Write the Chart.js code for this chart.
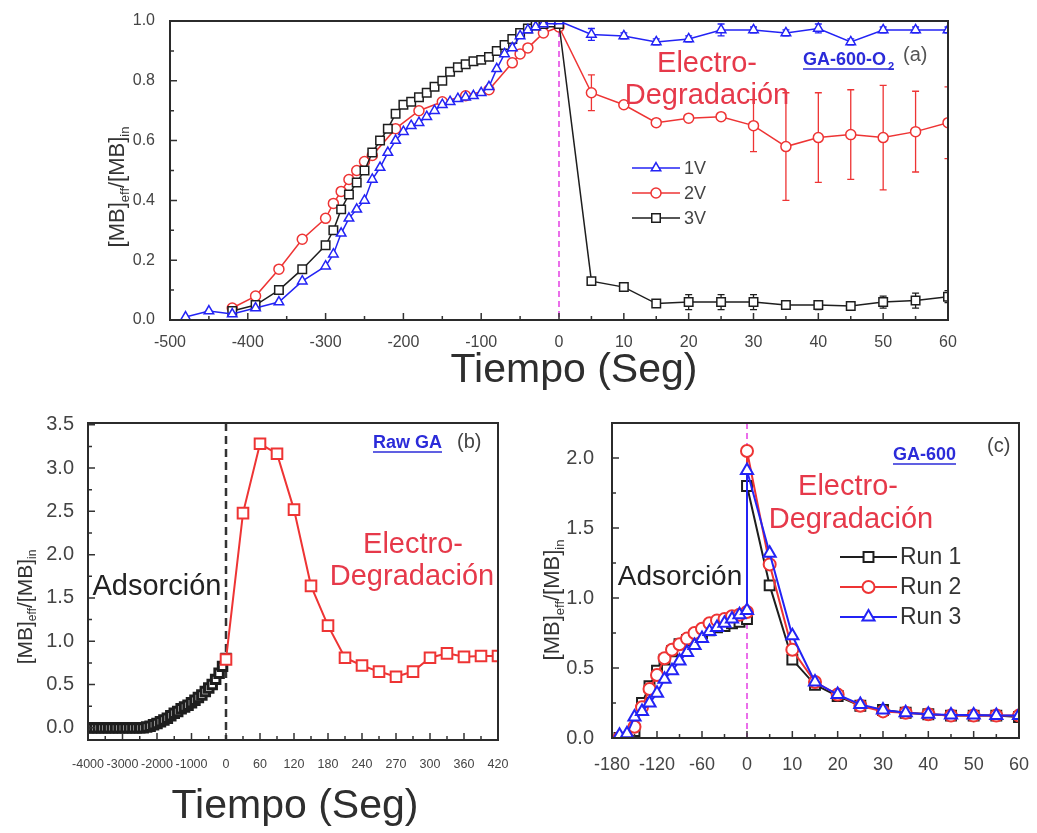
<!DOCTYPE html>
<html><head><meta charset="utf-8">
<script src="https://cdn.jsdelivr.net/npm/chart.js@4.4.1/dist/chart.umd.min.js"></script>
<style>
html,body{margin:0;padding:0;background:#fff;}
#wrap{position:relative;width:1037px;height:833px;overflow:hidden;background:#fff;}
canvas{position:absolute;}
</style></head><body>
<div id="wrap">
<canvas id="ca" width="1037" height="400" style="left:0;top:0"></canvas>
<canvas id="cb" width="520" height="433" style="left:0;top:400px"></canvas>
<canvas id="cc" width="517" height="433" style="left:520px;top:400px"></canvas>
</div>
<script>
// ================= DATA =================
// Panel (a) GA-600-O2
const A_X_TICKS = [-500,-400,-300,-200,-100,0,10,20,30,40,50,60];
const A_Y_TICKS = [0,0.2,0.4,0.6,0.8,1.0];
const A_1V_X = [-480,-450,-420,-390,-360,-330,-300,-290,-280,-270,-260,-250,-240,-230,-220,-210,-200,-190,-180,-170,-160,-150,-140,-130,-120,-110,-100,-90,-80,-70,-60,-50,-40,-30,-20,-10,0,5,10,15,20,25,30,35,40,45,50,55,60];
const A_1V_Y = [0.01,0.03,0.02,0.04,0.06,0.13,0.18,0.22,0.29,0.34,0.37,0.40,0.47,0.51,0.56,0.60,0.63,0.65,0.66,0.68,0.70,0.72,0.73,0.74,0.745,0.75,0.76,0.78,0.84,0.89,0.91,0.95,0.97,0.98,0.99,1.0,1.0,0.955,0.95,0.93,0.94,0.97,0.97,0.96,0.975,0.93,0.97,0.97,0.97];
const A_1V_ERR = [0,0,0,0,0,0,0,0,0,0,0,0,0,0,0,0,0,0,0,0,0,0,0,0,0,0,0,0,0,0,0,0,0,0,0,0,0,0.02,0.01,0.01,0.01,0.02,0.01,0.01,0.015,0.01,0.01,0.01,0.01];
const A_2V_X = [-420,-390,-360,-330,-300,-290,-280,-270,-260,-250,-240,-210,-180,-150,-120,-90,-60,-50,-40,-20,0,5,10,15,20,25,30,35,40,45,50,55,60];
const A_2V_Y = [0.04,0.08,0.17,0.27,0.34,0.39,0.43,0.47,0.50,0.53,0.55,0.64,0.70,0.73,0.75,0.77,0.86,0.89,0.91,0.96,0.98,0.76,0.72,0.66,0.675,0.68,0.65,0.58,0.61,0.62,0.61,0.63,0.66];
const A_2V_ERR = [0,0,0,0,0,0,0,0,0,0,0,0,0,0,0,0,0,0,0,0,0,0.06,0.01,0.01,0.01,0.01,0.087,0.18,0.15,0.15,0.175,0.135,0.12];
const A_3V_X = [-420,-390,-360,-330,-300,-290,-280,-270,-260,-250,-240,-230,-220,-210,-200,-190,-180,-170,-160,-150,-140,-130,-120,-110,-100,-90,-80,-70,-60,-50,-40,-30,-20,-10,0,5,10,15,20,25,30,35,40,45,50,55,60];
const A_3V_Y = [0.03,0.05,0.10,0.17,0.25,0.30,0.37,0.42,0.46,0.50,0.56,0.60,0.64,0.69,0.72,0.73,0.745,0.76,0.78,0.80,0.83,0.845,0.855,0.865,0.87,0.88,0.90,0.92,0.94,0.96,0.975,0.985,0.99,0.995,0.99,0.13,0.11,0.055,0.06,0.06,0.06,0.05,0.05,0.047,0.06,0.065,0.078];
const A_3V_ERR = [0,0,0,0,0,0,0,0,0,0,0,0,0,0,0,0,0,0,0,0,0,0,0,0,0,0,0,0,0,0,0,0,0,0,0,0.01,0.01,0.01,0.025,0.025,0.025,0.01,0.015,0.01,0.02,0.025,0.02];

// Panel (b) Raw GA
const B_X_TICKS = [-4000,-3000,-2000,-1000,0,60,120,180,240,300,360,420,480];
const B_X_LABELS = ["-4000","-3000","-2000","-1000","0","60","120","180","240","270","300","360","420"];
const B_Y_TICKS = [0,0.5,1.0,1.5,2.0,2.5,3.0,3.5];
const B_ADS_X = [-4000,-3900,-3800,-3700,-3600,-3500,-3400,-3300,-3200,-3100,-3000,-2900,-2800,-2700,-2600,-2500,-2400,-2300,-2200,-2100,-2000,-1900,-1800,-1700,-1600,-1500,-1400,-1300,-1200,-1100,-1000,-900,-800,-700,-600,-500,-400,-300,-200,-100,0];
const B_ADS_Y = [0,0,0,0,0,0,0,0,0,0,0,0,0,0,0,0,0,0.01,0.02,0.035,0.05,0.07,0.09,0.11,0.14,0.17,0.19,0.22,0.24,0.26,0.29,0.32,0.35,0.38,0.42,0.46,0.50,0.56,0.63,0.71,0.80];
const B_ELE_X = [0,30,60,90,120,150,180,210,240,270,300,330,360,390,420,450,480];
const B_ELE_Y = [0.79,2.48,3.28,3.165,2.52,1.64,1.18,0.81,0.72,0.65,0.59,0.65,0.81,0.86,0.82,0.83,0.83];

// Panel (c) GA-600
const C_X_TICKS = [-180,-120,-60,0,10,20,30,40,50,60];
const C_Y_TICKS = [0,0.5,1.0,1.5,2.0];
const C_X = [-170,-160,-150,-140,-130,-120,-110,-100,-90,-80,-70,-60,-50,-40,-30,-20,-10,0,0,5,10,15,20,25,30,35,40,45,50,55,60];
const C_RUN1 = [0.0,0.0,0.05,0.25,0.37,0.48,0.56,0.62,0.67,0.70,0.73,0.75,0.77,0.79,0.80,0.82,0.83,0.85,1.80,1.09,0.56,0.38,0.30,0.23,0.20,0.18,0.17,0.16,0.16,0.16,0.15];
const C_RUN2 = [0.0,0.0,0.08,0.22,0.35,0.45,0.57,0.63,0.67,0.71,0.75,0.78,0.82,0.84,0.85,0.87,0.88,0.90,2.05,1.24,0.63,0.40,0.31,0.23,0.19,0.18,0.17,0.16,0.16,0.16,0.16];
const C_RUN3 = [0.02,0.03,0.15,0.19,0.25,0.32,0.42,0.48,0.55,0.61,0.66,0.71,0.76,0.79,0.82,0.85,0.88,0.91,1.91,1.32,0.73,0.40,0.31,0.24,0.20,0.18,0.17,0.165,0.165,0.16,0.16];

// ================= HELPERS =================
const FONT = '"Liberation Sans", Arial, Helvetica, sans-serif';
const BLUE = '#2323f5', RED = '#ee3434', BLK = '#1e1e1e', TXTRED = '#e6394a', PINK = '#e54be5';

// piecewise-linear x scale (broken time axis)
const PIECE = {
  ca: {breaks: [-500, 0, 60], fracs: [0, 0.5, 1]},
  cb: {breaks: [-4000, 0, 480], fracs: [0, 138/410, 1]},
  cc: {breaks: [-180, 0, 60], fracs: [0, 136/410, 1]}
};
class PiecewiseScale extends Chart.LinearScale {
  _pw(){ return PIECE[this.chart.canvas.id]; }
  getPixelForValue(v){
    if (v === null || v === undefined) return NaN;
    const {breaks:b, fracs:f} = this._pw();
    let i = 0;
    while (i < b.length - 2 && v > b[i+1]) i++;
    const d = f[i] + (v - b[i]) / (b[i+1] - b[i]) * (f[i+1] - f[i]);
    return this.getPixelForDecimal(d);
  }
  getValueForPixel(p){
    const {breaks:b, fracs:f} = this._pw();
    const d = this.getDecimalForPixel(p);
    let i = 0;
    while (i < f.length - 2 && d > f[i+1]) i++;
    return b[i] + (d - f[i]) / (f[i+1] - f[i]) * (b[i+1] - b[i]);
  }
}
PiecewiseScale.id = 'piecewise';
PiecewiseScale.defaults = Chart.LinearScale.defaults;
Chart.register(PiecewiseScale);

function pts(X, Y){ return X.map((x,i)=>({x:x, y:Y[i]})); }

function drawPt(ctx, style, x, y, r, color, bw){
  ctx.save();
  ctx.fillStyle = '#fff'; ctx.strokeStyle = color; ctx.lineWidth = bw;
  Chart.helpers.drawPoint(ctx, {pointStyle: style, radius: r, borderWidth: bw, rotation: 0}, x, y);
  ctx.restore();
}

function txt(ctx, s, x, y, font, color, align){
  ctx.save(); ctx.font = font; ctx.fillStyle = color; ctx.textAlign = align || 'center'; ctx.textBaseline = 'alphabetic';
  ctx.fillText(s, x, y); ctx.restore();
}

function yLabel(ctx, cx, cy, size, sub, color){
  const parts = [['[MB]',0],['eff',1],['/[MB]',0],['in',1]];
  ctx.save();
  ctx.translate(cx, cy); ctx.rotate(-Math.PI/2);
  ctx.fillStyle = color; ctx.textBaseline = 'alphabetic'; ctx.textAlign = 'left';
  let total = 0;
  parts.forEach(p=>{ ctx.font = (p[1] ? sub : size) + 'px ' + FONT; total += ctx.measureText(p[0]).width; });
  let x = -total/2; const base = size*0.36;
  parts.forEach(p=>{
    ctx.font = (p[1] ? sub : size) + 'px ' + FONT;
    ctx.fillText(p[0], x, base + (p[1] ? size*0.22 : 0));
    x += ctx.measureText(p[0]).width;
  });
  ctx.restore();
}

function decor(cfg){
  return {
    id: 'decor',
    beforeDatasetsDraw(chart){
      const ctx = chart.ctx, a = chart.chartArea, xs = chart.scales.x, ys = chart.scales.y;
      ctx.save();
      ctx.beginPath(); ctx.rect(a.left, a.top, a.right-a.left, a.bottom-a.top); ctx.clip();
      // dashed vertical line at t = 0
      const vx = xs.getPixelForValue(0);
      ctx.strokeStyle = cfg.vline.color; ctx.lineWidth = cfg.vline.width; ctx.setLineDash(cfg.vline.dash);
      ctx.beginPath(); ctx.moveTo(vx, a.top); ctx.lineTo(vx, a.bottom); ctx.stroke();
      ctx.setLineDash([]);
      // error bars
      chart.data.datasets.forEach((ds, di)=>{
        if (!ds.errors) return;
        const meta = chart.getDatasetMeta(di);
        ctx.strokeStyle = ds.borderColor; ctx.lineWidth = 1.3;
        ds.data.forEach((p, j)=>{
          const e = ds.errors[j]; if (!e) return;
          const px = meta.data[j].x;
          const y1 = ys.getPixelForValue(p.y + e), y2 = ys.getPixelForValue(p.y - e);
          ctx.beginPath();
          ctx.moveTo(px, y1); ctx.lineTo(px, y2);
          ctx.moveTo(px-3.5, y1); ctx.lineTo(px+3.5, y1);
          ctx.moveTo(px-3.5, y2); ctx.lineTo(px+3.5, y2);
          ctx.stroke();
        });
      });
      ctx.restore();
    },
    afterDraw(chart){
      const ctx = chart.ctx, a = chart.chartArea, xs = chart.scales.x, ys = chart.scales.y;
      ctx.save();
      // inward ticks
      ctx.strokeStyle = '#333'; ctx.lineWidth = 1.5;
      ctx.beginPath();
      xs.ticks.forEach(t=>{ const p = xs.getPixelForValue(t.value); ctx.moveTo(p, a.bottom); ctx.lineTo(p, a.bottom-7); });
      cfg.xMinor.forEach(v=>{ const p = xs.getPixelForValue(v); ctx.moveTo(p, a.bottom); ctx.lineTo(p, a.bottom-4); });
      ys.ticks.forEach(t=>{ const p = ys.getPixelForValue(t.value); ctx.moveTo(a.left, p); ctx.lineTo(a.left+7, p); });
      cfg.yMinor.forEach(v=>{ const p = ys.getPixelForValue(v); ctx.moveTo(a.left, p); ctx.lineTo(a.left+4, p); });
      ctx.stroke();
      // frame
      ctx.strokeStyle = '#2b2b2b'; ctx.lineWidth = 2;
      ctx.strokeRect(a.left, a.top, a.right-a.left, a.bottom-a.top);
      ctx.restore();
      // y label & x title
      yLabel(ctx, cfg.ylabel.x, cfg.ylabel.y, cfg.ylabel.size, cfg.ylabel.sub, '#333');
      txt(ctx, 'Tiempo (Seg)', cfg.title.x, cfg.title.y, cfg.title.size + 'px ' + FONT, '#2e2e2e', 'center');
      // annotations
      cfg.texts.forEach(t=>{
        txt(ctx, t.t, t.x, t.y, t.font, t.color, t.align);
        if (t.underline){
          ctx.save(); ctx.font = t.font; const w = ctx.measureText(t.t).width + (t.extraW||0);
          ctx.strokeStyle = t.color; ctx.lineWidth = 1.5; ctx.beginPath();
          ctx.moveTo(t.x, t.y + 4); ctx.lineTo(t.x + w, t.y + 4); ctx.stroke(); ctx.restore();
        }
      });
      // legend
      if (cfg.legend){
        const L = cfg.legend;
        L.items.forEach((it, k)=>{
          const y = L.y0 + k*L.dy;
          ctx.save(); ctx.strokeStyle = it.color; ctx.lineWidth = L.lw;
          ctx.beginPath(); ctx.moveTo(L.x0, y); ctx.lineTo(L.x1, y); ctx.stroke(); ctx.restore();
          drawPt(ctx, it.style, (L.x0+L.x1)/2, y, it.r, it.color, L.lw);
          ctx.save(); ctx.font = L.font; ctx.fillStyle = L.color; ctx.textAlign='left'; ctx.textBaseline='middle';
          ctx.fillText(it.label, L.xt, y+1); ctx.restore();
        });
      }
    }
  };
}

function xScale(ticks, labels, H, font, pad, color){
  return {
    type: 'piecewise', min: ticks[0], max: ticks[ticks.length-1],
    grid: {display: false}, border: {display: false},
    afterFit: s => { s.height = H; },
    afterBuildTicks: s => { s.ticks = ticks.map(v=>({value: v})); },
    ticks: {autoSkip: false, maxRotation: 0, minRotation: 0, padding: pad, color: color,
      font: {family: FONT, size: font}, callback: (v, i) => labels[i]}
  };
}
function yScale(ticks, min, max, W, font, pad, color){
  return {
    type: 'linear', min: min, max: max,
    grid: {display: false}, border: {display: false},
    afterFit: s => { s.width = W; },
    afterBuildTicks: s => { s.ticks = ticks.map(v=>({value: v})); },
    ticks: {autoSkip: false, padding: pad, color: color,
      font: {family: FONT, size: font}, callback: v => v.toFixed(1)}
  };
}
function baseOptions(pad, xs, ys){
  return {
    responsive: false, animation: false, devicePixelRatio: 1, events: [],
    layout: {padding: pad},
    plugins: {legend: {display: false}, tooltip: {enabled: false}},
    scales: {x: xs, y: ys}
  };
}
function ds(label, X, Y, color, style, r, bw, order, err){
  const d = {label: label, data: pts(X, Y), borderColor: color, backgroundColor: color,
    pointStyle: style, pointRadius: r, pointBorderWidth: bw, pointBackgroundColor: '#fff',
    pointBorderColor: color, borderWidth: Math.min(bw, 2), tension: 0, order: order, pointHitRadius: 0};
  if (err) d.errors = err;
  return d;
}

// ================= PANEL (a) =================
new Chart(document.getElementById('ca'), {
  type: 'line',
  data: {datasets: [
    ds('1V', A_1V_X, A_1V_Y, BLUE, 'triangle', 5.5, 1.5, 0, A_1V_ERR),
    ds('2V', A_2V_X, A_2V_Y, RED, 'circle', 5, 1.5, 2, A_2V_ERR),
    ds('3V', A_3V_X, A_3V_Y, BLK, 'rect', 6, 1.5, 1, A_3V_ERR)
  ]},
  options: baseOptions({left: 100, right: 89, top: 21, bottom: 0},
    xScale(A_X_TICKS, A_X_TICKS.map(String), 80, 16, 5, '#444'),
    yScale(A_Y_TICKS, 0, 1.0, 70, 16, 7, '#444')),
  plugins: [decor({
    xMinor: [-450,-350,-250,-150,-50,5,15,25,35,45,55],
    yMinor: [0.1,0.3,0.5,0.7,0.9],
    vline: {color: PINK, width: 1.6, dash: [6,4]},
    ylabel: {x: 116, y: 187, size: 22, sub: 13},
    title: {x: 574, y: 382, size: 41},
    texts: [
      {t: 'Electro-', x: 707, y: 72, font: '29px ' + FONT, color: TXTRED},
      {t: 'Degradación', x: 707, y: 104, font: '29px ' + FONT, color: TXTRED},
      {t: 'GA-600-O', x: 803, y: 65, font: 'bold 18px ' + FONT, color: '#2b2bd9', align: 'left', underline: true, extraW: 8},
      {t: '2', x: 888, y: 70, font: 'bold 11px ' + FONT, color: '#2b2bd9', align: 'left'},
      {t: '(a)', x: 903, y: 61, font: '20px ' + FONT, color: '#555', align: 'left'}
    ],
    legend: {x0: 632, x1: 680, xt: 684, y0: 168, dy: 25, lw: 1.5, font: '18px ' + FONT, color: '#444',
      items: [{label: '1V', color: BLUE, style: 'triangle', r: 5.5},
              {label: '2V', color: RED, style: 'circle', r: 5},
              {label: '3V', color: BLK, style: 'rect', r: 6}]}
  })]
});

// ================= PANEL (b) =================
new Chart(document.getElementById('cb'), {
  type: 'line',
  data: {datasets: [
    ds('Electro', B_ELE_X, B_ELE_Y, RED, 'rect', 7.5, 2, 0),
    ds('Adsorcion', B_ADS_X, B_ADS_Y, BLK, 'rect', 6, 3, 1)
  ]},
  options: baseOptions({left: 40, right: 22, top: 23, bottom: 0},
    xScale(B_X_TICKS, B_X_LABELS, 93, 12.5, 9, '#444'),
    yScale(B_Y_TICKS, -0.14, 3.52, 48, 20, 6, '#444')),
  plugins: [decor({
    xMinor: [-3500,-2500,-1500,-500,30,90,150,210,270,330,390,450],
    yMinor: [0.25,0.75,1.25,1.75,2.25,2.75,3.25],
    vline: {color: '#333', width: 2.5, dash: [8,5]},
    ylabel: {x: 24, y: 207, size: 21, sub: 12},
    title: {x: 295, y: 418, size: 41},
    texts: [
      {t: 'Raw GA', x: 373, y: 48, font: 'bold 18px ' + FONT, color: '#2b2bd9', align: 'left', underline: true},
      {t: '(b)', x: 457, y: 48, font: '20px ' + FONT, color: '#444', align: 'left'},
      {t: 'Electro-', x: 413, y: 153, font: '29px ' + FONT, color: TXTRED},
      {t: 'Degradación', x: 412, y: 185, font: '29px ' + FONT, color: TXTRED},
      {t: 'Adsorción', x: 157, y: 195, font: '29px ' + FONT, color: '#222'}
    ]
  })]
});

// ================= PANEL (c) =================
new Chart(document.getElementById('cc'), {
  type: 'line',
  data: {datasets: [
    ds('Run 1', C_X, C_RUN1, BLK, 'rect', 7, 2, 2),
    ds('Run 2', C_X, C_RUN2, RED, 'circle', 6, 2, 1),
    ds('Run 3', C_X, C_RUN3, BLUE, 'triangle', 7, 2, 0)
  ]},
  options: baseOptions({left: 40, right: 15, top: 23, bottom: 0},
    xScale(C_X_TICKS, C_X_TICKS.map(String), 95, 18, 8, '#444'),
    yScale(C_Y_TICKS, 0, 2.25, 52, 20, 10, '#444')),
  plugins: [decor({
    xMinor: [-150,-90,-30,5,15,25,35,45,55],
    yMinor: [0.25,0.75,1.25,1.75],
    vline: {color: PINK, width: 1.6, dash: [6,4]},
    ylabel: {x: 31, y: 200, size: 22, sub: 13},
    title: {x: 805, y: 423, size: 41},
    texts: [
      {t: 'GA-600', x: 373, y: 60, font: 'bold 18px ' + FONT, color: '#2b2bd9', align: 'left', underline: true},
      {t: '(c)', x: 467, y: 52, font: '20px ' + FONT, color: '#444', align: 'left'},
      {t: 'Electro-', x: 328, y: 95, font: '29px ' + FONT, color: TXTRED},
      {t: 'Degradación', x: 331, y: 128, font: '29px ' + FONT, color: TXTRED},
      {t: 'Adsorción', x: 160, y: 185, font: '28px ' + FONT, color: '#222'}
    ],
    legend: {x0: 320, x1: 377, xt: 380, y0: 157, dy: 30, lw: 2, font: '23px ' + FONT, color: '#333',
      items: [{label: 'Run 1', color: BLK, style: 'rect', r: 7},
              {label: 'Run 2', color: RED, style: 'circle', r: 6},
              {label: 'Run 3', color: BLUE, style: 'triangle', r: 7}]}
  })]
});
</script>
</body></html>
